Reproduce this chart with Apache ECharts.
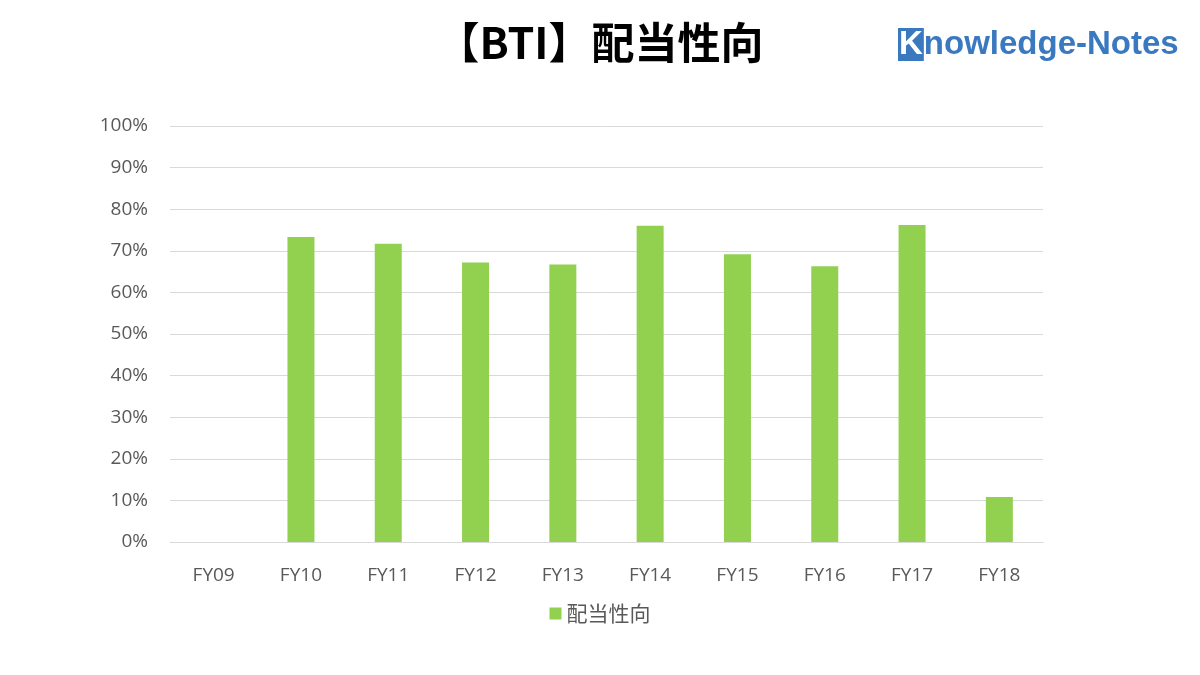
<!DOCTYPE html>
<html>
<head>
<meta charset="utf-8">
<script src="https://cdn.jsdelivr.net/npm/echarts@6/dist/echarts.min.js"></script>
<style>
html, body { margin: 0; padding: 0; background: #fff; }
#main { width: 1200px; height: 675px; }
</style>
</head>
<body>
<div id="main"></div>
<script>
// 年度
var categories = ['FY09', 'FY10', 'FY11', 'FY12', 'FY13', 'FY14', 'FY15', 'FY16', 'FY17', 'FY18'];
// 配当性向 (%)
var payoutRatio = [null, 73.3, 71.7, 67.2, 66.7, 76.0, 69.2, 66.3, 76.2, 10.8];
var seriesName = '配当性向';

var myChart = echarts.init(document.getElementById('main'));
var option = {
    backgroundColor: '#ffffff',
    textStyle: { fontFamily: 'Noto Sans CJK JP' },
    title: {
        text: '【BTI】配当性向',
        left: 'center',
        top: 16,
        textStyle: { fontSize: 43, fontWeight: 'bold', color: '#000', fontFamily: 'Noto Sans CJK JP' }
    },
    graphic: [{
        type: 'text',
        left: 898,
        top: 28,
        style: {
            text: '{k|K}{r|nowledge-Notes}',
            rich: {
                k: { backgroundColor: '#3a78c0', fill: '#fff', fontSize: 33, fontWeight: 'bold', fontFamily: 'Liberation Sans', padding: [0, 1, 0, 1] },
                r: { fill: '#3a78c0', fontSize: 33, fontWeight: 'bold', fontFamily: 'Liberation Sans' }
            }
        }
    }],
    legend: {
        data: [seriesName],
        bottom: 46,
        left: 'center',
        itemWidth: 12,
        itemHeight: 12,
        icon: 'rect',
        textStyle: { fontSize: 21, color: '#595959' }
    },
    grid: { left: 170, right: 157, top: 126, bottom: 133, containLabel: false },
    xAxis: {
        type: 'category',
        data: categories,
        axisTick: { show: false },
        axisLine: { lineStyle: { color: '#d9d9d9' } },
        axisLabel: { fontSize: 19, color: '#595959', margin: 24, fontFamily: 'Open Sans' }
    },
    yAxis: {
        type: 'value',
        min: 0,
        max: 100,
        interval: 10,
        axisLine: { show: false },
        axisTick: { show: false },
        axisLabel: { formatter: '{value}%', fontSize: 19, color: '#595959', margin: 22, fontFamily: 'Open Sans' },
        splitLine: { lineStyle: { color: '#d9d9d9' } }
    },
    series: [{
        name: seriesName,
        type: 'bar',
        data: payoutRatio,
        barWidth: 27,
        itemStyle: { color: '#92d050' }
    }]
};
myChart.setOption(option);
</script>
</body>
</html>
